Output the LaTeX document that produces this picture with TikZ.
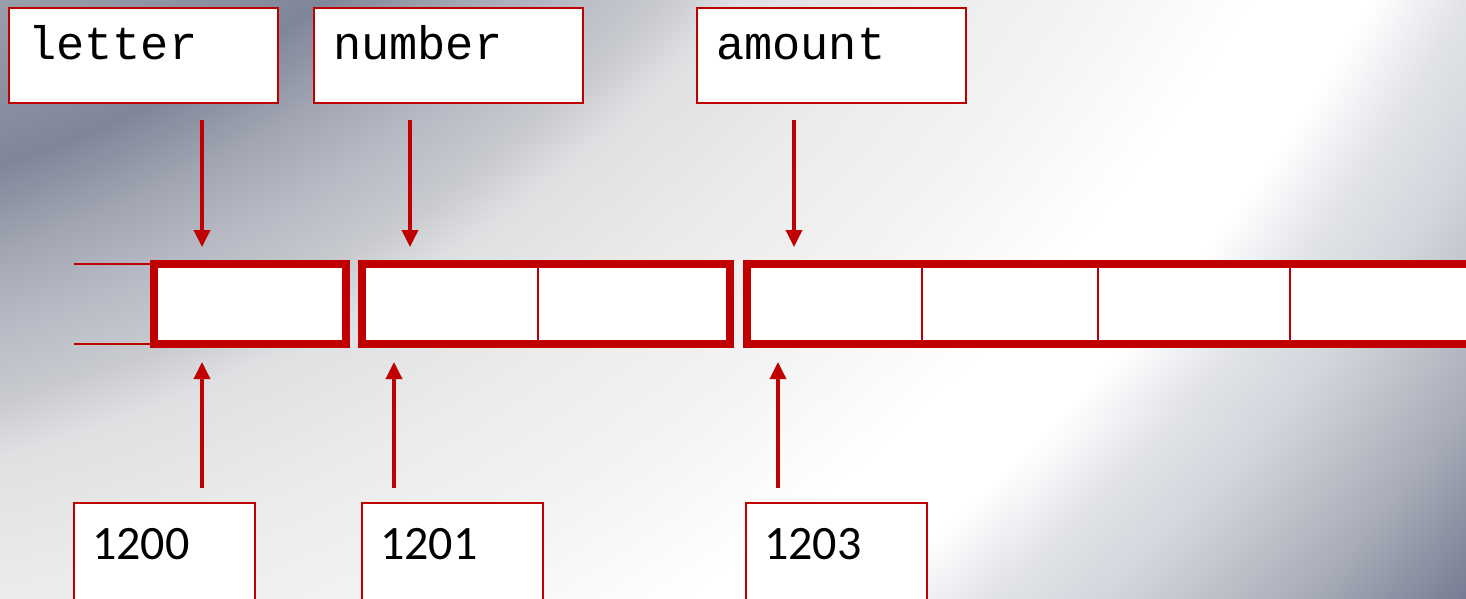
\documentclass[tikz,border=0pt]{standalone}
\usepackage{fontspec}
\usetikzlibrary{arrows.meta}
\newfontfamily\monofam{Liberation Mono}
\newfontfamily\calfam{Carlito}
\definecolor{memred}{HTML}{C00000}
\definecolor{g1}{HTML}{9A9EAB}
\definecolor{g2}{HTML}{80869A}
\definecolor{g3}{HTML}{A2A6B2}
\definecolor{g4}{HTML}{B8BBC5}
\definecolor{g5}{HTML}{C8CACF}
\definecolor{g6}{HTML}{DFE0E2}
\definecolor{g7}{HTML}{EBEBEB}
\definecolor{g8}{HTML}{F3F3F3}
\definecolor{g9}{HTML}{E1E3E8}
\definecolor{g10}{HTML}{D3D6DC}
\definecolor{g11}{HTML}{A8ADB8}
\definecolor{g12}{HTML}{777D93}
\definecolor{g13}{HTML}{6E748A}
\pgfdeclareradialshading{bgshade}{\pgfpoint{0pt}{0pt}}{%
color(0pt)=(g1); color(1045pt)=(g1); color(1200pt)=(g2); color(1281pt)=(g3);
color(1355pt)=(g4); color(1425pt)=(g5); color(1480pt)=(g6); color(1609pt)=(g7);
color(1750pt)=(g8); color(1900pt)=(white); color(2000pt)=(white);
color(2083pt)=(g9); color(2160pt)=(g10); color(2300pt)=(g11);
color(2421pt)=(g12); color(2550pt)=(g13)}
\tikzset{
  namebox/.style={draw=memred, line width=2pt, fill=white, anchor=north west,
    outer sep=0pt, inner xsep=19pt, inner ysep=0pt, text width=231pt, align=left,
    text height=51pt, text depth=44pt,
    font=\monofam\fontsize{47pt}{52pt}\selectfont},
  addrbox/.style={draw=memred, line width=2pt, fill=white, anchor=north west,
    outer sep=0pt, inner xsep=18pt, inner ysep=0pt, text width=145pt, align=left,
    text height=56pt, text depth=81pt,
    font=\calfam\fontsize{48pt}{52pt}\selectfont},
  cell/.style={draw=memred, line width=8pt, fill=white, outer sep=0pt,
    inner sep=0pt, minimum height=80pt},
  divider/.style={draw=memred, line width=2pt},
  conn/.style={draw=memred, line width=3.5pt, -{Triangle[length=17pt,width=16pt]}},
}
\begin{document}
\begin{tikzpicture}[x=1pt,y=-1pt]
\useasboundingbox (0,0) rectangle (1466,598);
\begin{scope}
  \clip (0,0) rectangle (1466,598);
  \begin{scope}[transform canvas={shift={(-375pt,975pt)}}]
    \pgftext{\pgfuseshading{bgshade}}
  \end{scope}
\end{scope}

% memory cells
\node[cell, minimum width=192pt] (c0) at (250,304) {};
\node[cell, minimum width=368pt] (c1) at (546,304) {};
\node[cell, minimum width=723pt] (c3) at (1108.5,304) {};
\draw[divider] (538,264) -- (538,344);
\draw[divider] (922,264) -- (922,344);
\draw[divider] (1098,264) -- (1098,344);
\draw[divider] (1290,264) -- (1290,344);
\coordinate (lt) at (74,264);
\coordinate (lb) at (74,344);
\draw[divider] (lt) -- (c0.north west);
\draw[divider] (lb) -- (c0.south west);

% name boxes
\node[namebox] (letter) at (9,8) {letter};
\node[namebox] (number) at (314,8) {number};
\node[namebox] (amount) at (697,8) {amount};

% address boxes
\node[addrbox] (a1200) at (74,503) {1200};
\node[addrbox] (a1201) at (362,503) {1201};
\node[addrbox] (a1203) at (746,503) {1203};

% arrows
\coordinate (t1s) at (202,120); \coordinate (t1e) at (202,247);
\coordinate (t2s) at (410,120); \coordinate (t2e) at (410,247);
\coordinate (t3s) at (794,120); \coordinate (t3e) at (794,247);
\coordinate (b1s) at (202,488); \coordinate (b1e) at (202,362);
\coordinate (b2s) at (394,488); \coordinate (b2e) at (394,362);
\coordinate (b3s) at (778,488); \coordinate (b3e) at (778,362);
\draw[conn] (t1s) -- (t1e);
\draw[conn] (t2s) -- (t2e);
\draw[conn] (t3s) -- (t3e);
\draw[conn] (b1s) -- (b1e);
\draw[conn] (b2s) -- (b2e);
\draw[conn] (b3s) -- (b3e);
\end{tikzpicture}
\end{document}
